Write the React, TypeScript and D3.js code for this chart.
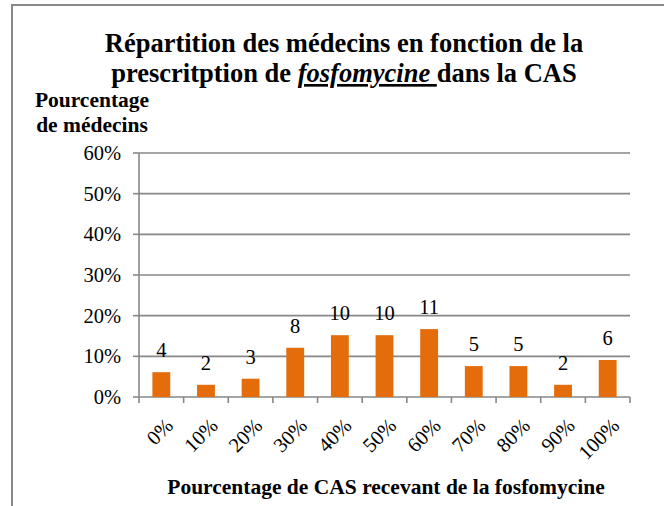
import React from "react";
import * as d3 from "d3";

const categories = ["0%", "10%", "20%", "30%", "40%", "50%", "60%", "70%", "80%", "90%", "100%"];
const percentValues = [6.1, 3.0, 4.5, 12.1, 15.2, 15.2, 16.7, 7.6, 7.6, 3.0, 9.1];
const countLabels = ["4", "2", "3", "8", "10", "10", "11", "5", "5", "2", "6"];
const yTicks = [0, 10, 20, 30, 40, 50, 60];
const titleLine1 = "Répartition des médecins en fonction de la";
const titleLine2a = "prescritption de ";
const titleLine2b = "fosfomycine ";
const titleLine2c = "dans la CAS";
const yTitle = ["Pourcentage", "de médecins"];
const xTitle = "Pourcentage de CAS recevant de la fosfomycine";

const W = 664;
const H = 506;
const FONT = "'Liberation Serif', 'Times New Roman', serif";
const GRID = "#878787";
const BAR = "#E46C0A";

export default function App() {
  const left = 139;
  const right = 630;
  const top = 153;
  const bottom = 397;

  const x = d3.scaleBand<string>().domain(categories).range([left, right]).paddingInner(0.6).paddingOuter(0.3);
  const xb = d3.scaleBand<string>().domain(categories).range([left, right]);
  const y = d3.scaleLinear().domain([0, 60]).range([bottom, top]);

  const boundaries = [...categories.map((c) => xb(c)!), right];

  return (
    <div style={{ position: "fixed", left: 0, top: 0, width: W, height: H, background: "#fff" }}>
      <svg width={W} height={H} style={{ display: "block" }} fontFamily={FONT}>
        <rect x={12} y={5} width={720} height={620} fill="#fff" stroke="#888" strokeWidth={2} />

        {/* Title */}
        <text x={344} y={52} textAnchor="middle" fontSize={26.5} fontWeight="bold" fill="#000">
          {titleLine1}
        </text>
        <text x={344} y={82} textAnchor="middle" fontSize={26.5} fontWeight="bold" fill="#000">
          <tspan>{titleLine2a}</tspan>
          <tspan fontStyle="italic" textDecoration="underline">{titleLine2b}</tspan>
          <tspan>{titleLine2c}</tspan>
        </text>

        {/* Y axis title */}
        <text x={92} y={107} textAnchor="middle" fontSize={21.5} fontWeight="bold" fill="#000">
          {yTitle[0]}
        </text>
        <text x={92} y={132} textAnchor="middle" fontSize={21.5} fontWeight="bold" fill="#000">
          {yTitle[1]}
        </text>

        {/* Gridlines & y ticks */}
        {yTicks.map((t) => (
          <g key={t}>
            <line x1={left} x2={right} y1={y(t)} y2={y(t)} stroke={GRID} strokeWidth={1.6} />
            <line x1={left - 6} x2={left} y1={y(t)} y2={y(t)} stroke={GRID} strokeWidth={1.6} />
            <text x={121} y={y(t) + 7} textAnchor="end" fontSize={20.5} fill="#000">
              {t + "%"}
            </text>
          </g>
        ))}

        {/* Y axis line */}
        <line x1={left} x2={left} y1={top} y2={bottom} stroke={GRID} strokeWidth={1.6} />

        {/* X ticks */}
        {boundaries.map((b, i) => (
          <line key={i} x1={b} x2={b} y1={bottom} y2={bottom + 6} stroke={GRID} strokeWidth={1.6} />
        ))}

        {/* Bars */}
        {categories.map((c, i) => (
          <rect
            key={c}
            x={x(c)!}
            y={y(percentValues[i])}
            width={x.bandwidth()}
            height={bottom - y(percentValues[i])}
            fill={BAR}
          />
        ))}

        {/* Data labels */}
        {categories.map((c, i) => (
          <text
            key={c}
            x={x(c)! + x.bandwidth() / 2}
            y={y(percentValues[i]) - 15}
            textAnchor="middle"
            fontSize={20.5}
            fill="#000"
          >
            {countLabels[i]}
          </text>
        ))}

        {/* X labels */}
        {categories.map((c) => {
          const cx = xb(c)! + xb.bandwidth() / 2;
          return (
            <text
              key={c}
              transform={`translate(${cx + 13},${bottom + 30}) rotate(-45)`}
              textAnchor="end"
              fontSize={20.5}
              fill="#000"
            >
              {c}
            </text>
          );
        })}

        {/* X title */}
        <text x={386} y={494} textAnchor="middle" fontSize={21.5} fontWeight="bold" fill="#000">
          {xTitle}
        </text>
      </svg>
    </div>
  );
}
